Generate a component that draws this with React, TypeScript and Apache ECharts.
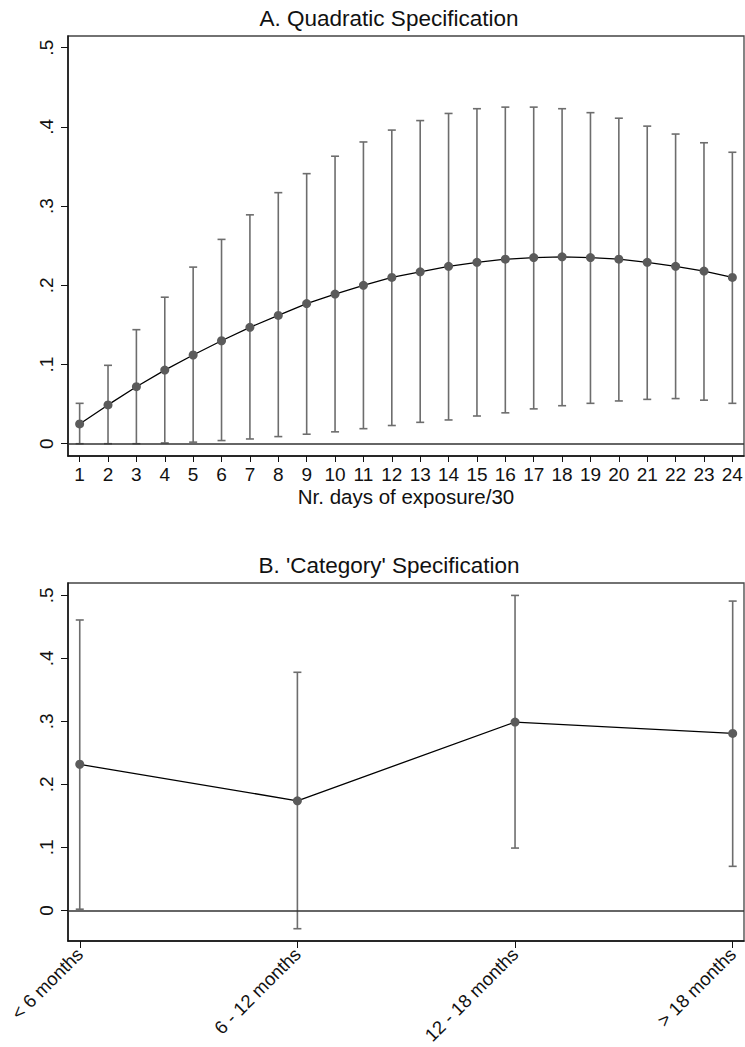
import React, { useEffect, useRef } from "react";
import * as echarts from "echarts";

// ---- Panel A data ----
const daysTicks = [1, 2, 3, 4, 5, 6, 7, 8, 9, 10, 11, 12, 13, 14, 15, 16, 17, 18, 19, 20, 21, 22, 23, 24];
const pointA = [0.025, 0.049, 0.072, 0.093, 0.112, 0.130, 0.147, 0.162, 0.177, 0.189, 0.200, 0.210, 0.217, 0.224, 0.229, 0.233, 0.235, 0.236, 0.235, 0.233, 0.229, 0.224, 0.218, 0.210];
const lowA = [0.000, 0.000, 0.000, 0.001, 0.002, 0.004, 0.006, 0.009, 0.012, 0.015, 0.019, 0.023, 0.027, 0.030, 0.035, 0.039, 0.044, 0.048, 0.051, 0.054, 0.056, 0.057, 0.055, 0.051];
const highA = [0.051, 0.099, 0.144, 0.185, 0.223, 0.258, 0.289, 0.317, 0.341, 0.363, 0.381, 0.396, 0.408, 0.417, 0.423, 0.425, 0.425, 0.423, 0.418, 0.411, 0.401, 0.391, 0.380, 0.368];

// ---- Panel B data ----
const categoriesB = ["< 6 months", "6 - 12 months", "12 - 18 months", "> 18 months"];
const catPos = [1, 2, 3, 4];
const pointB = [0.232, 0.174, 0.299, 0.281];
const lowB = [0.002, -0.029, 0.099, 0.070];
const highB = [0.461, 0.378, 0.500, 0.491];

const yTicks = [0, 0.1, 0.2, 0.3, 0.4, 0.5];

const titleA = "A. Quadratic Specification";
const titleB = "B. 'Category' Specification";
const xNameA = "Nr. days of exposure/30";

const FONT = "'Liberation Sans', Arial, Helvetica, sans-serif";
const BAR_COLOR = "#6d6d6d";
const MARKER_COLOR = "#5b5b5b";

const yFmt = (v: number) => (Math.abs(v) < 1e-9 ? "0" : "." + Math.round(v * 10));

function errorBarRender(params: any, api: any) {
  const x = api.value(0);
  const lo = api.value(1);
  const hi = api.value(2);
  const pLo = api.coord([x, lo]);
  const pHi = api.coord([x, hi]);
  const hw = 4;
  const style = { stroke: BAR_COLOR, lineWidth: 1.6 };
  return {
    type: "group",
    children: [
      { type: "line", shape: { x1: pLo[0], y1: pLo[1], x2: pHi[0], y2: pHi[1] }, style },
      { type: "line", shape: { x1: pHi[0] - hw, y1: pHi[1], x2: pHi[0] + hw, y2: pHi[1] }, style },
      { type: "line", shape: { x1: pLo[0] - hw, y1: pLo[1], x2: pLo[0] + hw, y2: pLo[1] }, style },
    ],
  };
}

function yAxisCfg(gridIndex: number, min: number, max: number) {
  return {
    type: "value",
    gridIndex,
    min,
    max,
    splitLine: { show: false },
    axisLine: { show: true, lineStyle: { color: "#111", width: 1.5 } },
    axisTick: { show: true, length: 7, customValues: yTicks, lineStyle: { color: "#111", width: 1 } },
    axisLabel: {
      customValues: yTicks,
      formatter: yFmt,
      rotate: 90,
      margin: 12,
      fontSize: 19,
      fontFamily: FONT,
      color: "#111",
    },
  };
}

export default function App() {
  const ref = useRef<HTMLDivElement>(null);

  useEffect(() => {
    if (!ref.current) return;
    const chart = echarts.init(ref.current, null, { renderer: "svg" });

    const barsA = daysTicks.map((d, i) => [d, lowA[i], highA[i]]);
    const lineA = daysTicks.map((d, i) => [d, pointA[i]]);
    const barsB = catPos.map((d, i) => [d, lowB[i], highB[i]]);
    const lineB = catPos.map((d, i) => [d, pointB[i]]);

    const zeroLine = {
      silent: true,
      symbol: ["none", "none"],
      label: { show: false },
      lineStyle: { color: "#333", width: 1.5, type: "solid" },
      data: [{ yAxis: 0 }],
    };

    const option: any = {
      animation: false,
      backgroundColor: "#fff",
      grid: [
        { left: 68, top: 36, width: 676, height: 420, show: true, borderColor: "#444", borderWidth: 1.3, outerBoundsMode: "none" },
        { left: 68, top: 583, width: 676, height: 358, show: true, borderColor: "#444", borderWidth: 1.3, outerBoundsMode: "none" },
      ],
      xAxis: [
        {
          type: "value",
          gridIndex: 0,
          min: 0.59,
          max: 24.41,
          splitLine: { show: false },
          axisLine: { show: true, onZero: false, lineStyle: { color: "#111", width: 1.5 } },
          axisTick: { show: true, length: 6, customValues: daysTicks, lineStyle: { color: "#111", width: 1 } },
          axisLabel: { customValues: daysTicks, margin: 9, fontSize: 19, fontFamily: FONT, color: "#111" },
          name: xNameA,
          nameLocation: "middle",
          nameGap: 30,
          nameTextStyle: { fontSize: 20.5, fontFamily: FONT, color: "#111" },
        },
        {
          type: "value",
          gridIndex: 1,
          min: 0.946,
          max: 4.052,
          splitLine: { show: false },
          axisLine: { show: true, onZero: false, lineStyle: { color: "#111", width: 1.5 } },
          axisTick: { show: true, length: 7, customValues: catPos, lineStyle: { color: "#111", width: 1 } },
          axisLabel: {
            customValues: catPos,
            formatter: (v: number) => categoriesB[Math.round(v) - 1] ?? "",
            rotate: 45,
            margin: 10,
            fontSize: 18.5,
            fontFamily: FONT,
            color: "#111",
          },
        },
      ],
      yAxis: [yAxisCfg(0, -0.0155, 0.5148), yAxisCfg(1, -0.0485, 0.5197)],
      graphic: [
        { type: "text", x: 389, y: 18.5, style: { text: titleA, font: `22.5px ${FONT}`, fill: "#111", textAlign: "center", textVerticalAlign: "middle" } },
        { type: "text", x: 389, y: 565, style: { text: titleB, font: `22.5px ${FONT}`, fill: "#111", textAlign: "center", textVerticalAlign: "middle" } },
      ],
      series: [
        {
          type: "custom",
          xAxisIndex: 0,
          yAxisIndex: 0,
          renderItem: errorBarRender,
          encode: { x: 0, y: [1, 2] },
          data: barsA,
          z: 2,
          silent: true,
        },
        {
          type: "line",
          xAxisIndex: 0,
          yAxisIndex: 0,
          data: lineA,
          symbol: "circle",
          symbolSize: 9,
          itemStyle: { color: MARKER_COLOR },
          lineStyle: { color: "#000", width: 1.3 },
          z: 3,
          markLine: zeroLine,
        },
        {
          type: "custom",
          xAxisIndex: 1,
          yAxisIndex: 1,
          renderItem: errorBarRender,
          encode: { x: 0, y: [1, 2] },
          data: barsB,
          z: 2,
          silent: true,
        },
        {
          type: "line",
          xAxisIndex: 1,
          yAxisIndex: 1,
          data: lineB,
          symbol: "circle",
          symbolSize: 9,
          itemStyle: { color: MARKER_COLOR },
          lineStyle: { color: "#000", width: 1.3 },
          z: 3,
          markLine: zeroLine,
        },
      ],
    };

    chart.setOption(option);
    return () => chart.dispose();
  }, []);

  return (
    <div
      ref={ref}
      style={{ position: "fixed", left: 0, top: 0, width: 745, height: 1047, background: "#fff" }}
    />
  );
}
